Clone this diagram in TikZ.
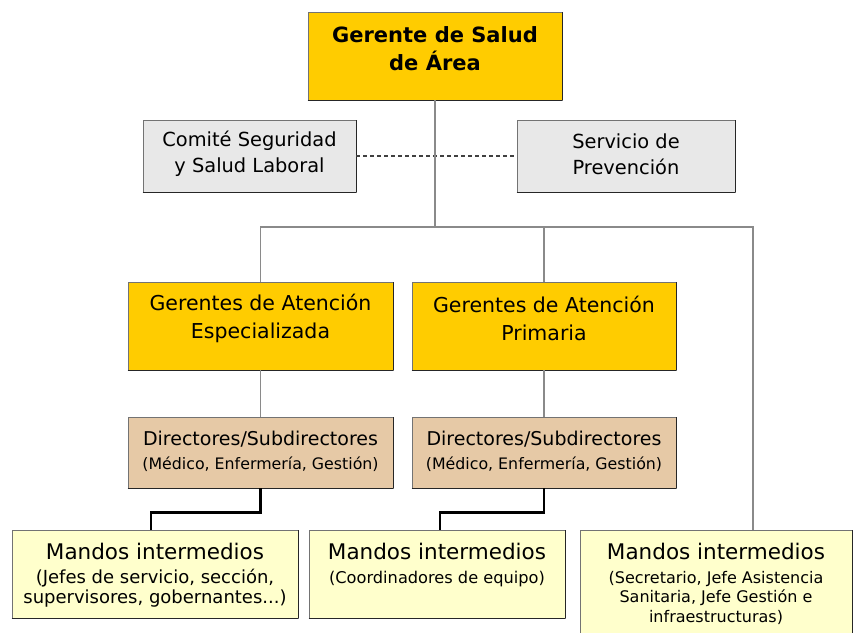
\documentclass[tikz,border=0pt]{standalone}
\usepackage{fontspec}
\setmainfont{DejaVu Sans}
\definecolor{gold}{HTML}{FFCC00}
\definecolor{lgray}{HTML}{E8E8E8}
\definecolor{tan}{HTML}{E6C9A6}
\definecolor{pale}{HTML}{FFFFCC}
\definecolor{lnk}{HTML}{8A8A8A}
\begin{document}
\begin{tikzpicture}[x=1pt,y=-1pt,
  box/.style={draw=black!55, line width=0.8pt, inner sep=0pt, shad},
  shad/.style={append after command={(\tikzlastnode.south west) edge[shadowline] (\tikzlastnode.south east)
     (\tikzlastnode.south east) edge[shadowline] (\tikzlastnode.north east)}},
  shadowline/.style={draw=black!85, line width=1.8pt},
  txt/.style={align=center, inner sep=0pt, text=black},
  conn/.style={draw=lnk, line width=1.5pt},
  connb/.style={draw=black, line width=2.2pt},
  dashline/.style={draw=black!75, line width=1.2pt, dash pattern=on 4pt off 3pt}
]
\useasboundingbox[fill=white] (0,0) rectangle (853,632);

% boxes
\node[box, fill=gold, minimum width=254pt, minimum height=88pt] (top) at (435,56) {};
\node[box, fill=lgray, minimum width=213pt, minimum height=72pt] (comite) at (249.5,156) {};
\node[box, fill=lgray, minimum width=218pt, minimum height=72pt] (servicio) at (626,156) {};
\node[box, fill=gold, minimum width=265pt, minimum height=88pt] (gesp) at (260.5,326) {};
\node[box, fill=gold, minimum width=264pt, minimum height=88pt] (gprim) at (544,326) {};
\node[box, fill=tan, minimum width=265pt, minimum height=71pt] (dleft) at (260.5,452.5) {};
\node[box, fill=tan, minimum width=264pt, minimum height=71pt] (dright) at (544,452.5) {};
\node[box, fill=pale, minimum width=286pt, minimum height=88pt] (mleft) at (155,574) {};
\node[box, fill=pale, minimum width=256pt, minimum height=88pt] (mmid) at (437,574) {};
\node[box, fill=pale, minimum width=272pt, minimum height=130pt] (mright) at (716,595) {};

% texts
\node[txt, font=\bfseries\fontsize{21}{28}\selectfont] (topt) at (435,49) {Gerente de Salud\\de Área};
\node[txt, font=\fontsize{19.4}{26}\selectfont] (comitet) at (249.5,154) {Comité Seguridad\\y Salud Laboral};
\node[txt, font=\fontsize{19.4}{26}\selectfont] (serviciot) at (626,154) {Servicio de\\Prevención};
\node[txt, font=\fontsize{20.5}{28}\selectfont] (gespt) at (260.5,318) {Gerentes de Atención\\Especializada};
\node[txt, font=\fontsize{20.5}{28}\selectfont] (gprimt) at (544,318) {Gerentes de Atención\\Primaria};
\node[txt, font=\fontsize{15.8}{24}\selectfont] (dleftt) at (260.5,451) {{\fontsize{19}{24}\selectfont Directores/Subdirectores}\\(Médico, Enfermería, Gestión)};
\node[txt, font=\fontsize{15.8}{24}\selectfont] (drightt) at (544,451) {{\fontsize{19}{24}\selectfont Directores/Subdirectores}\\(Médico, Enfermería, Gestión)};
\node[txt, anchor=north, font=\fontsize{18}{20}\selectfont] (mleftt) at (155,542.5) {{\fontsize{21.5}{24}\selectfont Mandos intermedios}\\[4pt](Jefes de servicio, sección,\\supervisores, gobernantes...)};
\node[txt, anchor=north, font=\fontsize{16.2}{20}\selectfont] (mmidt) at (437,542.5) {{\fontsize{21.5}{24}\selectfont Mandos intermedios}\\[4pt](Coordinadores de equipo)};
\node[txt, anchor=north, font=\fontsize{16}{19.5}\selectfont] (mrightt) at (716,542.5) {{\fontsize{21.5}{24}\selectfont Mandos intermedios}\\[4.5pt](Secretario, Jefe Asistencia\\Sanitaria, Jefe Gestión e\\infraestructuras)};

% connectors
\coordinate (bus) at (435,227);
\coordinate (mrtop) at (753,530);
\coordinate (mltop) at (151,530);
\coordinate (mmtop) at (440,530);
\draw[dashline] (comite.east) -- (servicio.west);
\draw[conn] (top.south) -- (bus);
\draw[conn] (gesp.north) |- (bus) -| (mrtop);
\draw[conn] (gprim.north) -- (gprim.north |- bus);
\draw[conn] (gesp.south) -- (dleft.north);
\draw[conn] (gprim.south) -- (dright.north);
\draw[connb] (dleft.south) -- ++(0,24) -| (mltop);
\draw[connb] (dright.south) -- ++(0,24) -| (mmtop);
\end{tikzpicture}
\end{document}
